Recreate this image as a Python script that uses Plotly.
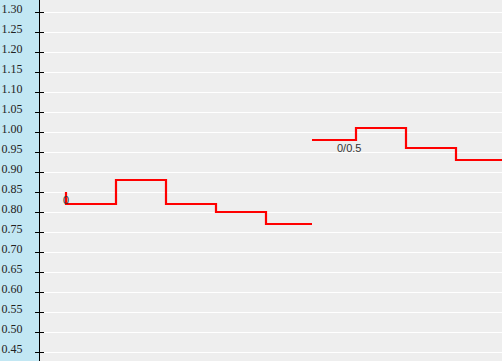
import plotly.graph_objects as go

# Data
s1_x = [0, 0, 1, 2, 3, 4, 4.92]
s1_y = [0.85, 0.82, 0.88, 0.82, 0.80, 0.77, 0.77]
s2_x = [4.92, 5.8, 6.8, 7.8, 8.8]
s2_y = [0.98, 1.01, 0.96, 0.93, 0.93]
tick_vals = [round(0.45 + 0.05 * i, 2) for i in range(18)]
tick_text = [f"{v:.2f}" for v in tick_vals]
labels = [("0", 0, 0.83), ("0/0.5", 5.66, 0.96)]

yr = [0.4275, 1.33]
xr = [-0.52, 8.72]

fig = go.Figure()
fig.add_trace(go.Scatter(x=s1_x, y=s1_y, mode="lines", line=dict(color="#ff0000", width=2.2, shape="hv"),
                         hoverinfo="skip", showlegend=False))
fig.add_trace(go.Scatter(x=s2_x, y=s2_y, mode="lines", line=dict(color="#ff0000", width=2.2, shape="hv"),
                         hoverinfo="skip", showlegend=False))
# invisible trace to activate yaxis2
fig.add_trace(go.Scatter(x=[xr[0]], y=[yr[0]], yaxis="y2", mode="markers", marker=dict(opacity=0),
                         hoverinfo="skip", showlegend=False))

for txt, x, y in labels:
    fig.add_annotation(x=x, y=y, text=txt, showarrow=False,
                       font=dict(family="Liberation Sans, Arial", size=11, color="#333333"))

fig.update_layout(
    width=502, height=361,
    margin=dict(l=40, r=0, t=0, b=0),
    paper_bgcolor="#c2e7f3",
    plot_bgcolor="#eeeeee",
    xaxis=dict(range=xr, visible=False, showgrid=False, zeroline=False),
    yaxis=dict(range=yr, tickvals=tick_vals, ticktext=tick_text, ticks="outside", ticklen=4,
               tickwidth=1, tickcolor="#000000", showline=True, linecolor="#000000", linewidth=1,
               gridcolor="#ffffff", gridwidth=1, zeroline=False, ticklabelstandoff=10,
               ticklabelshift=-3,
               tickfont=dict(family="Liberation Serif, Times New Roman, serif", size=12, color="#222222")),
    yaxis2=dict(range=yr, overlaying="y", side="left", tickvals=tick_vals, ticks="inside", ticklen=4,
                tickwidth=1, tickcolor="#000000", showticklabels=False, showgrid=False, zeroline=False,
                showline=False),
)

fig.write_html("out.html")
